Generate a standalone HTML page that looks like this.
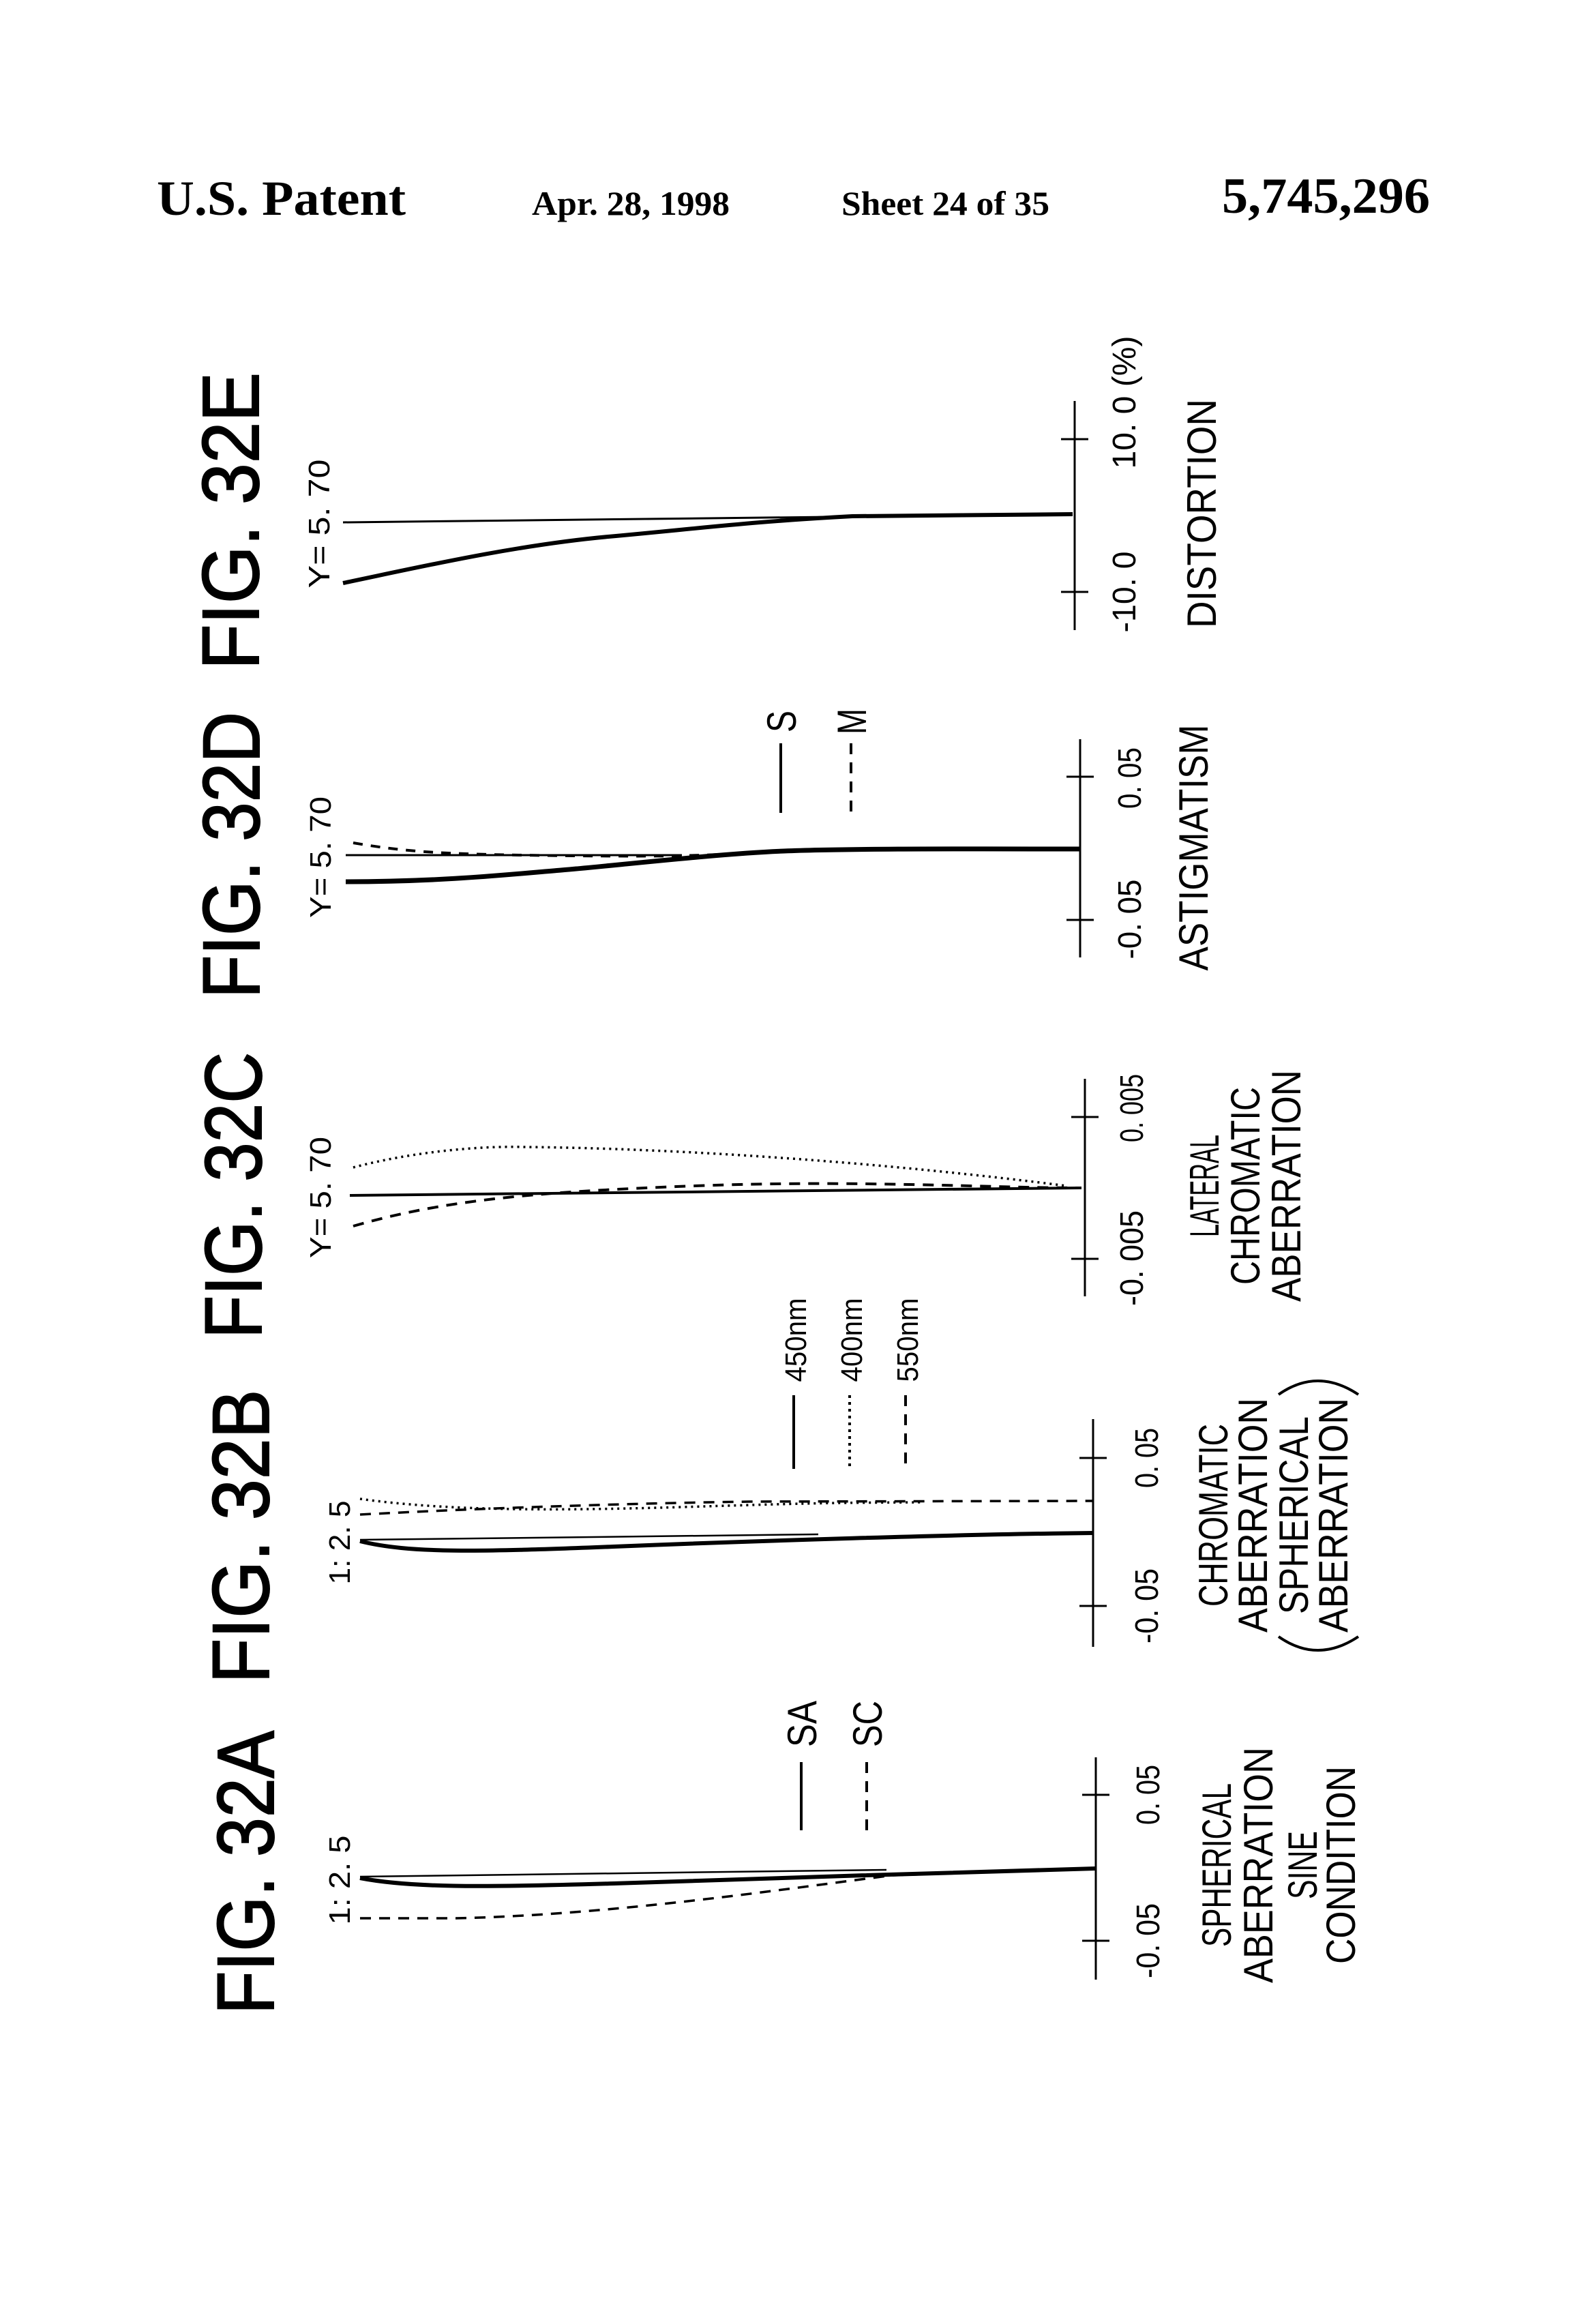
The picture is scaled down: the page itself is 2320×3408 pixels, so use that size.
<!DOCTYPE html>
<html><head><meta charset="utf-8"><style>
html,body{margin:0;padding:0;background:#fff;}
svg{display:block;}
text{font-family:"Liberation Sans",sans-serif;fill:#000;}
.serif{font-family:"Liberation Serif",serif;font-weight:bold;}
.ttl{stroke:#000;stroke-width:2;}
</style></head><body>
<svg width="2320" height="3408" viewBox="0 0 2320 3408" xmlns="http://www.w3.org/2000/svg">
<rect width="2320" height="3408" fill="#fff"/>
<!-- header -->
<text class="serif" x="230" y="315" font-size="72" textLength="365" lengthAdjust="spacingAndGlyphs">U.S. Patent</text>
<text class="serif" x="780" y="315" font-size="50" textLength="290" lengthAdjust="spacingAndGlyphs">Apr. 28, 1998</text>
<text class="serif" x="1234" y="315" font-size="50" textLength="305" lengthAdjust="spacingAndGlyphs">Sheet 24 of 35</text>
<text class="serif" x="1792" y="312" font-size="74" textLength="305" lengthAdjust="spacingAndGlyphs">5,745,296</text>

<g text-anchor="middle">
<!-- titles -->
<text class="ttl" transform="translate(379,764) rotate(-90)" font-size="118" textLength="436" lengthAdjust="spacingAndGlyphs">FIG. 32E</text>
<text class="ttl" transform="translate(380,1254) rotate(-90)" font-size="118" textLength="420" lengthAdjust="spacingAndGlyphs">FIG. 32D</text>
<text class="ttl" transform="translate(383,1753) rotate(-90)" font-size="118" textLength="420" lengthAdjust="spacingAndGlyphs">FIG. 32C</text>
<text class="ttl" transform="translate(394,2253) rotate(-90)" font-size="118" textLength="431" lengthAdjust="spacingAndGlyphs">FIG. 32B</text>
<text class="ttl" transform="translate(401,2746) rotate(-90)" font-size="118" textLength="416" lengthAdjust="spacingAndGlyphs">FIG. 32A</text>

<!-- Y / F-number labels -->
<g font-size="44">
<text transform="translate(483,768) rotate(-90)" textLength="189" lengthAdjust="spacingAndGlyphs">Y= 5. 70</text>
<text transform="translate(485,1257) rotate(-90)" textLength="178" lengthAdjust="spacingAndGlyphs">Y= 5. 70</text>
<text transform="translate(485,1756) rotate(-90)" textLength="178" lengthAdjust="spacingAndGlyphs">Y= 5. 70</text>
<text transform="translate(513,2262) rotate(-90)" textLength="123" lengthAdjust="spacingAndGlyphs">1: 2. 5</text>
<text transform="translate(513,2757) rotate(-90)" textLength="131" lengthAdjust="spacingAndGlyphs">1: 2. 5</text>
</g>

<!-- tick labels -->
<g font-size="48">
<text transform="translate(1700,2632) rotate(-90)" textLength="88" lengthAdjust="spacingAndGlyphs">0. 05</text>
<text transform="translate(1700,2846) rotate(-90)" textLength="110" lengthAdjust="spacingAndGlyphs">-0. 05</text>
<text transform="translate(1698,2138) rotate(-90)" textLength="88" lengthAdjust="spacingAndGlyphs">0. 05</text>
<text transform="translate(1698,2355) rotate(-90)" textLength="110" lengthAdjust="spacingAndGlyphs">-0. 05</text>
<text transform="translate(1676,1625) rotate(-90)" textLength="100" lengthAdjust="spacingAndGlyphs">0. 005</text>
<text transform="translate(1676,1845) rotate(-90)" textLength="140" lengthAdjust="spacingAndGlyphs">-0. 005</text>
<text transform="translate(1673,1141) rotate(-90)" textLength="90" lengthAdjust="spacingAndGlyphs">0. 05</text>
<text transform="translate(1673,1348) rotate(-90)" textLength="117" lengthAdjust="spacingAndGlyphs">-0. 05</text>
<text transform="translate(1665,590) rotate(-90)" textLength="195" lengthAdjust="spacingAndGlyphs">10. 0 (%)</text>
<text transform="translate(1665,868) rotate(-90)" textLength="119" lengthAdjust="spacingAndGlyphs">-10. 0</text>
</g>

<!-- bottom labels -->
<g font-size="60">
<text transform="translate(1805,2735) rotate(-90)" textLength="240" lengthAdjust="spacingAndGlyphs">SPHERICAL</text>
<text transform="translate(1866,2735) rotate(-90)" textLength="346" lengthAdjust="spacingAndGlyphs">ABERRATION</text>
<text transform="translate(1931,2735) rotate(-90)" textLength="100" lengthAdjust="spacingAndGlyphs">SINE</text>
<text transform="translate(1987,2735) rotate(-90)" textLength="290" lengthAdjust="spacingAndGlyphs">CONDITION</text>

<text transform="translate(1800,2222) rotate(-90)" textLength="268" lengthAdjust="spacingAndGlyphs">CHROMATIC</text>
<text transform="translate(1858,2222) rotate(-90)" textLength="344" lengthAdjust="spacingAndGlyphs">ABERRATION</text>
<text transform="translate(1918,2222) rotate(-90)" textLength="290" lengthAdjust="spacingAndGlyphs">SPHERICAL</text>
<text transform="translate(1976,2222) rotate(-90)" textLength="344" lengthAdjust="spacingAndGlyphs">ABERRATION</text>

<text transform="translate(1787,1739) rotate(-90)" textLength="150" lengthAdjust="spacingAndGlyphs">LATERAL</text>
<text transform="translate(1847,1739) rotate(-90)" textLength="290" lengthAdjust="spacingAndGlyphs">CHROMATIC</text>
<text transform="translate(1907,1739) rotate(-90)" textLength="340" lengthAdjust="spacingAndGlyphs">ABERRATION</text>

<text transform="translate(1771,1243) rotate(-90)" textLength="361" lengthAdjust="spacingAndGlyphs">ASTIGMATISM</text>
<text transform="translate(1783,753) rotate(-90)" textLength="336" lengthAdjust="spacingAndGlyphs">DISTORTION</text>

<!-- legend labels -->
<text transform="translate(1197,2528) rotate(-90)" textLength="68" lengthAdjust="spacingAndGlyphs">SA</text>
<text transform="translate(1293,2528) rotate(-90)" textLength="68" lengthAdjust="spacingAndGlyphs">SC</text>
<text transform="translate(1167,1058) rotate(-90)" textLength="32" lengthAdjust="spacingAndGlyphs">S</text>
<text transform="translate(1270,1058) rotate(-90)" textLength="38" lengthAdjust="spacingAndGlyphs">M</text>
</g>
<g font-size="44">
<text transform="translate(1182,1965) rotate(-90)" textLength="123" lengthAdjust="spacingAndGlyphs">450nm</text>
<text transform="translate(1264,1965) rotate(-90)" textLength="123" lengthAdjust="spacingAndGlyphs">400nm</text>
<text transform="translate(1346,1965) rotate(-90)" textLength="123" lengthAdjust="spacingAndGlyphs">550nm</text>
</g>
</g>

<!-- parens for B -->
<g fill="none" stroke="#000" stroke-width="4">
<path d="M1875,2400 Q1932,2440 1992,2400"/>
<path d="M1875,2045 Q1932,2005 1992,2045"/>
</g>

<!-- axes and ticks -->
<g stroke="#000" stroke-width="3" fill="none">
<path d="M1607,2577 V2903 M1587,2632 H1627 M1587,2846 H1627"/>
<path d="M1603,2081 V2415 M1583,2138 H1623 M1583,2355 H1623"/>
<path d="M1591,1582 V1901 M1571,1638 H1611 M1571,1846 H1611"/>
<path d="M1584,1084 V1404 M1564,1139 H1604 M1564,1349 H1604"/>
<path d="M1576,588 V924 M1556,644 H1596 M1556,868 H1596"/>
</g>

<!-- legend lines -->
<g stroke="#000" stroke-width="4" fill="none">
<path d="M1175,2584 V2684"/>
<path d="M1271,2584 V2684" stroke-dasharray="16 12"/>
<path d="M1164,2046 V2154"/>
<path d="M1246,2046 V2154" stroke-dasharray="4 6"/>
<path d="M1328,2046 V2154" stroke-dasharray="16 12"/>
<path d="M1145,1090 V1192"/>
<path d="M1248,1090 V1192" stroke-dasharray="16 12"/>
</g>

<!-- curves -->
<g fill="none" stroke="#000">
<path d="M528,2754 C600,2768 700,2768 900,2762 S1400,2745 1607,2740" stroke-width="6"/>
<path d="M528,2752 L1300,2742" stroke-width="2.5"/>
<path d="M528,2813 L669,2813 C900,2808 1150,2770 1309,2750 L1607,2740" stroke-width="3.5" stroke-dasharray="16 12"/>
<path d="M528,2260 C600,2278 700,2276 900,2268 S1400,2250 1603,2248" stroke-width="6"/>
<path d="M528,2258 L1200,2250" stroke-width="2.5"/>
<path d="M528,2221 C700,2212 900,2205 1100,2202 L1603,2201" stroke-width="3.5" stroke-dasharray="16 12"/>
<path d="M528,2198 C650,2215 800,2216 1000,2210 S1200,2204 1350,2203" stroke-width="3.5" stroke-dasharray="3 6"/>
<path d="M513,1753 L1586,1742" stroke-width="4"/>
<path d="M518,1798 C650,1760 780,1748 1019,1739 S1450,1742 1586,1742" stroke-width="4" stroke-dasharray="16 12"/>
<path d="M518,1712 C600,1690 700,1680 769,1682 C1000,1684 1300,1705 1564,1739" stroke-width="3.5" stroke-dasharray="3 6"/>
<path d="M507,1293 C650,1293 750,1282 823,1276 S1050,1252 1150,1248 S1450,1245 1584,1245" stroke-width="7"/>
<path d="M507,1254 L1000,1254" stroke-width="3"/>
<path d="M518,1236 C600,1250 650,1253 845,1255 S1050,1252 1150,1249" stroke-width="4" stroke-dasharray="14 12"/>
<path d="M503,766 L1573,754" stroke-width="3"/>
<path d="M503,855 C600,835 750,800 892,787 S1100,765 1250,757 L1573,754" stroke-width="6"/>
</g>
</svg>
</body></html>
